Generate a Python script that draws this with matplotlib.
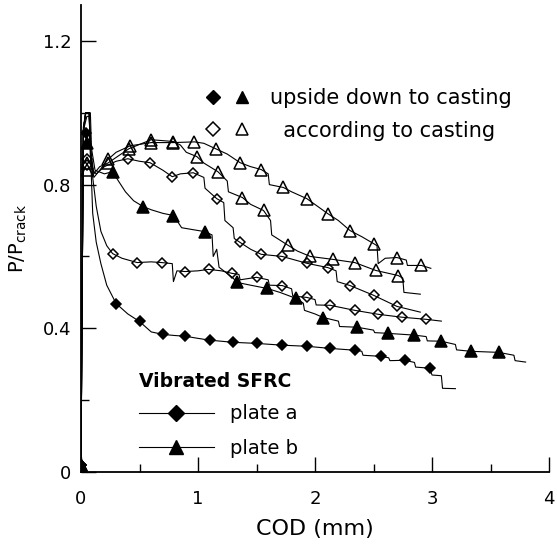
import matplotlib
matplotlib.use('Agg')
import matplotlib.pyplot as plt
from matplotlib.lines import Line2D
from matplotlib.legend_handler import HandlerTuple
from matplotlib.ticker import MultipleLocator

plt.rcParams['font.family'] = ['DejaVu Sans']

# plate a, upside down to casting (filled diamond)
da_x = [0.0, 0.01, 0.02, 0.05, 0.07, 0.08, 0.10, 0.13, 0.17, 0.22, 0.30, 0.40, 0.50, 0.60, 0.70, 0.80, 0.89,
        1.00, 1.10, 1.30, 1.50, 1.72, 1.93, 2.13, 2.34, 2.40, 2.41, 2.56, 2.63, 2.64, 2.77, 2.85, 2.86, 2.98,
        3.00, 3.08, 3.09, 3.20]
da_y = [0.02, 0.50, 0.95, 0.99, 0.99, 0.90, 0.72, 0.64, 0.58, 0.52, 0.469, 0.44, 0.419, 0.39, 0.383, 0.38, 0.378,
        0.372, 0.367, 0.361, 0.358, 0.353, 0.350, 0.344, 0.339, 0.336, 0.325, 0.322, 0.318, 0.310, 0.311, 0.305, 0.292, 0.289,
        0.27, 0.268, 0.233, 0.232]
da_mx = [0.0, 0.04, 0.30, 0.50, 0.70, 0.89, 1.10, 1.30, 1.50, 1.72, 1.93, 2.13, 2.34, 2.56, 2.77, 2.98]
da_my = [0.02, 0.944, 0.469, 0.419, 0.383, 0.378, 0.367, 0.361, 0.358, 0.353, 0.350, 0.344, 0.339, 0.322, 0.311, 0.289]

# plate b, upside down to casting (filled triangle)
tb_x = [0.0, 0.01, 0.02, 0.04, 0.08, 0.09, 0.12, 0.20, 0.27, 0.32, 0.38, 0.45, 0.53, 0.60, 0.70, 0.79, 0.82, 0.86,
        0.95, 1.06, 1.12, 1.13, 1.16, 1.18, 1.22, 1.30, 1.33, 1.45, 1.59, 1.70, 1.84, 1.90, 1.91, 2.00, 2.07, 2.20,
        2.21, 2.36, 2.50, 2.51, 2.62, 2.85, 2.95, 2.96, 3.08, 3.20, 3.21, 3.33, 3.57, 3.70, 3.71, 3.80]
tb_y = [0.02, 0.50, 0.96, 1.00, 1.00, 0.90, 0.84, 0.83, 0.836, 0.81, 0.78, 0.755, 0.739, 0.73, 0.72, 0.714, 0.70, 0.68,
        0.675, 0.669, 0.66, 0.60, 0.62, 0.57, 0.56, 0.54, 0.528, 0.52, 0.511, 0.50, 0.483, 0.47, 0.45, 0.44, 0.43, 0.42,
        0.405, 0.403, 0.395, 0.388, 0.386, 0.381, 0.377, 0.365, 0.364, 0.355, 0.34, 0.336, 0.333, 0.325, 0.31, 0.306]
tb_mx = [0.0, 0.05, 0.27, 0.53, 0.79, 1.06, 1.33, 1.59, 1.84, 2.07, 2.36, 2.62, 2.85, 3.08, 3.33, 3.57]
tb_my = [0.02, 0.915, 0.836, 0.739, 0.714, 0.669, 0.528, 0.511, 0.483, 0.43, 0.403, 0.386, 0.381, 0.364, 0.336, 0.333]

# according to casting, lower diamond curve
d2_x = [0.0, 0.01, 0.02, 0.04, 0.07, 0.08, 0.10, 0.13, 0.17, 0.22, 0.27, 0.35, 0.48, 0.60, 0.69, 0.78, 0.79, 0.82,
        0.89, 1.00, 1.09, 1.20, 1.29, 1.35, 1.36, 1.50, 1.60, 1.61, 1.72, 1.80, 1.81, 1.93, 2.00, 2.01, 2.13, 2.34,
        2.54, 2.74, 2.95, 3.08]
d2_y = [0.02, 0.50, 0.95, 1.00, 1.00, 0.92, 0.82, 0.74, 0.67, 0.63, 0.608, 0.595, 0.583, 0.585, 0.583, 0.58, 0.53, 0.56,
        0.558, 0.56, 0.564, 0.56, 0.553, 0.55, 0.535, 0.542, 0.535, 0.52, 0.519, 0.51, 0.49, 0.486, 0.48, 0.465, 0.464, 0.45,
        0.439, 0.431, 0.425, 0.42]
d2_mx = [0.0, 0.05, 0.27, 0.48, 0.69, 0.89, 1.09, 1.29, 1.50, 1.72, 1.93, 2.13, 2.34, 2.54, 2.74, 2.95]
d2_my = [0.02, 0.87, 0.608, 0.583, 0.583, 0.558, 0.564, 0.553, 0.542, 0.519, 0.486, 0.464, 0.45, 0.439, 0.431, 0.425]

# according to casting, upper diamond curve
d1_x = [0.0, 0.01, 0.02, 0.04, 0.07, 0.08, 0.10, 0.13, 0.20, 0.30, 0.40, 0.50, 0.59, 0.70, 0.78, 0.85, 0.96, 1.05,
        1.06, 1.16, 1.22, 1.23, 1.30, 1.31, 1.36, 1.45, 1.54, 1.72, 1.93, 2.11, 2.18, 2.19, 2.30, 2.50, 2.70, 2.90]
d1_y = [0.02, 0.50, 0.95, 1.00, 1.00, 0.90, 0.84, 0.83, 0.85, 0.865, 0.872, 0.865, 0.861, 0.84, 0.822, 0.83, 0.833, 0.82,
        0.79, 0.761, 0.75, 0.70, 0.68, 0.65, 0.639, 0.62, 0.606, 0.60, 0.581, 0.569, 0.56, 0.53, 0.519, 0.492, 0.461, 0.445]
d1_mx = [0.0, 0.05, 0.40, 0.59, 0.78, 0.96, 1.16, 1.36, 1.54, 1.72, 1.93, 2.11, 2.30, 2.50, 2.70]
d1_my = [0.02, 0.855, 0.872, 0.861, 0.822, 0.833, 0.761, 0.639, 0.606, 0.60, 0.581, 0.569, 0.519, 0.492, 0.461]

# according to casting, upper triangle curve
t1_x = [0.0, 0.01, 0.02, 0.04, 0.07, 0.08, 0.11, 0.16, 0.23, 0.30, 0.42, 0.60, 0.79, 0.97, 1.05, 1.15, 1.25, 1.36,
        1.45, 1.54, 1.60, 1.61, 1.73, 1.80, 1.93, 2.11, 2.20, 2.30, 2.40, 2.50, 2.53, 2.54, 2.60, 2.70, 2.78, 2.79,
        2.91, 2.99]
t1_y = [0.02, 0.50, 0.95, 1.00, 1.00, 0.88, 0.82, 0.84, 0.87, 0.89, 0.908, 0.917, 0.917, 0.919, 0.915, 0.90, 0.885, 0.861,
        0.85, 0.842, 0.83, 0.80, 0.792, 0.78, 0.761, 0.719, 0.70, 0.672, 0.655, 0.636, 0.63, 0.58, 0.595, 0.597, 0.59, 0.575,
        0.575, 0.567]
t1_mx = [0.0, 0.05, 0.23, 0.42, 0.60, 0.79, 0.97, 1.15, 1.36, 1.54, 1.73, 1.93, 2.11, 2.30, 2.50, 2.70, 2.91]
t1_my = [0.02, 0.84, 0.87, 0.908, 0.917, 0.917, 0.919, 0.90, 0.861, 0.842, 0.792, 0.761, 0.719, 0.672, 0.636, 0.597, 0.575]

# according to casting, lower triangle curve
t2_x = [0.0, 0.01, 0.02, 0.04, 0.07, 0.08, 0.11, 0.16, 0.23, 0.41, 0.60, 0.79, 0.85, 0.90, 0.99, 1.05, 1.17, 1.25,
        1.26, 1.38, 1.45, 1.56, 1.62, 1.63, 1.77, 1.85, 1.96, 2.15, 2.34, 2.52, 2.71, 2.75, 2.76, 2.90]
t2_y = [0.02, 0.50, 0.95, 1.00, 1.00, 0.90, 0.83, 0.85, 0.86, 0.90, 0.925, 0.92, 0.91, 0.89, 0.878, 0.86, 0.836, 0.81,
        0.78, 0.764, 0.745, 0.728, 0.70, 0.66, 0.631, 0.615, 0.60, 0.592, 0.583, 0.561, 0.547, 0.54, 0.50, 0.495]
t2_mx = [0.0, 0.05, 0.23, 0.41, 0.60, 0.79, 0.99, 1.17, 1.38, 1.56, 1.77, 1.96, 2.15, 2.34, 2.52, 2.71]
t2_my = [0.02, 0.86, 0.86, 0.90, 0.925, 0.92, 0.878, 0.836, 0.764, 0.728, 0.631, 0.60, 0.592, 0.583, 0.561, 0.547]

fig = plt.figure(figsize=(5.57, 5.47), dpi=100)
ax = fig.add_axes([81/557, 1-472/547, 468/557, 467/547])

curves = [
    (da_x, da_y, da_mx, da_my, 'D', 'k', 5.6),
    (tb_x, tb_y, tb_mx, tb_my, '^', 'k', 8.5),
    (d2_x, d2_y, d2_mx, d2_my, 'D', 'none', 5.6),
    (d1_x, d1_y, d1_mx, d1_my, 'D', 'none', 5.6),
    (t1_x, t1_y, t1_mx, t1_my, '^', 'none', 8.5),
    (t2_x, t2_y, t2_mx, t2_my, '^', 'none', 8.5),
]
for x, y, mx, my, m, fc, ms in curves:
    ax.plot(x, y, color='k', lw=0.8)
    ax.plot(mx, my, ls='none', marker=m, ms=ms, mfc=fc, mec='k', mew=1.1)

ax.set_xlim(0, 4)
ax.set_ylim(0, 1.3)
ax.xaxis.set_major_locator(MultipleLocator(1))
ax.xaxis.set_minor_locator(MultipleLocator(0.5))
ax.set_yticks([0, 0.4, 0.8, 1.2])
ax.set_yticklabels(['0', '0.4', '0.8', '1.2'])
ax.yaxis.set_minor_locator(MultipleLocator(0.2))
ax.spines['top'].set_visible(False)
ax.spines['right'].set_visible(False)
ax.spines['left'].set_linewidth(1.3)
ax.spines['bottom'].set_linewidth(1.3)
ax.tick_params(which='major', direction='in', length=11, width=1, labelsize=13)
ax.tick_params(which='minor', direction='in', length=5.5, width=1)
ax.tick_params(axis='x', which='major', pad=13)
ax.tick_params(axis='y', which='major', pad=7)
ax.set_xlabel('COD (mm)', fontsize=16, labelpad=8)
ax.set_ylabel(r'P/P$_{\mathregular{crack}}$', fontsize=14, labelpad=10)

# top legend: marker pairs
h_up = (Line2D([], [], ls='none', marker='D', ms=7, color='k'),
        Line2D([], [], ls='none', marker='^', ms=8, color='k'))
h_acc = (Line2D([], [], ls='none', marker='D', ms=7, mfc='none', mec='k', mew=1.1),
         Line2D([], [], ls='none', marker='^', ms=8, mfc='none', mec='k', mew=1.1))
leg1 = ax.legend([h_up, h_acc], ['upside down to casting', '  according to casting'],
                 handler_map={tuple: HandlerTuple(ndivide=None, pad=0.5)},
                 loc='upper left', bbox_to_anchor=(0.262, 0.822), frameon=False,
                 fontsize=15, handlelength=2.3, handletextpad=0.9, labelspacing=0.6,
                 borderpad=0, borderaxespad=0)
ax.add_artist(leg1)

# bottom legend
h_a = Line2D([], [], color='k', lw=0.8, marker='D', ms=8, mfc='k', mec='k')
h_b = Line2D([], [], color='k', lw=0.8, marker='^', ms=10, mfc='k', mec='k')
leg2 = ax.legend([h_a, h_b], ['plate a', 'plate b'], title='Vibrated SFRC',
                 title_fontproperties={'weight': 'bold', 'size': 13.5},
                 loc='upper left', bbox_to_anchor=(0.123, 0.215), frameon=False,
                 fontsize=14, handlelength=3.9, handletextpad=0.8, labelspacing=0.8,
                 borderpad=0, borderaxespad=0, alignment='left', markerscale=1)
leg2._legend_box.sep = 10

fig.savefig('out.png', dpi=100)
